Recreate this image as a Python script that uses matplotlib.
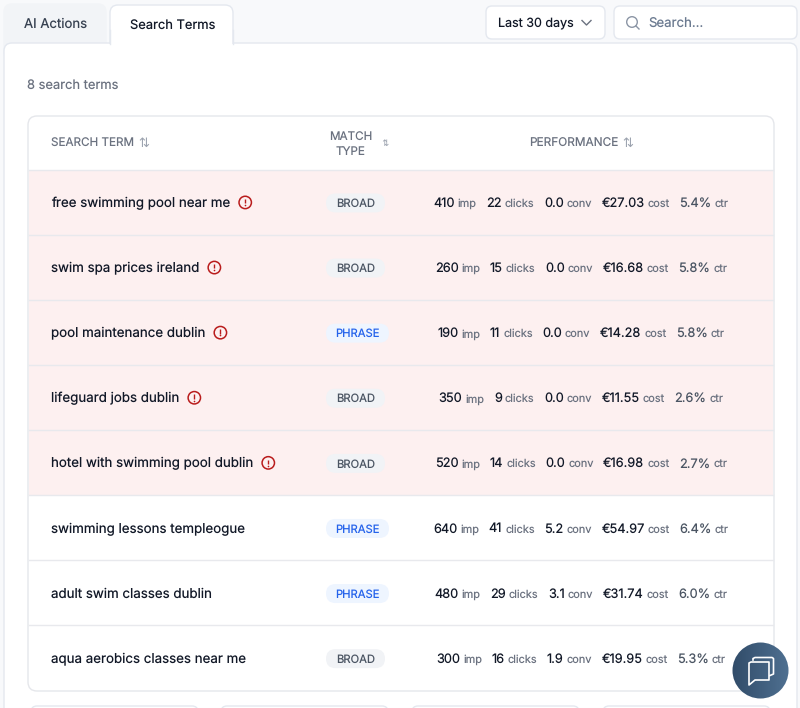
import numpy as np
import matplotlib
matplotlib.use('Agg')
import matplotlib.pyplot as plt
from matplotlib.patches import FancyBboxPatch, Rectangle, Circle, PathPatch
from matplotlib.path import Path

plt.rcParams['font.family'] = ['Inter', 'DejaVu Sans']
plt.rcParams['text.hinting'] = 'no_hinting'
plt.rcParams['text.hinting_factor'] = 1

# table values
terms = ['free swimming pool near me', 'swim spa prices ireland', 'pool maintenance dublin',
         'lifeguard jobs dublin', 'hotel with swimming pool dublin', 'swimming lessons templeogue',
         'adult swim classes dublin', 'aqua aerobics classes near me']
match_types = ['BROAD', 'BROAD', 'PHRASE', 'BROAD', 'BROAD', 'PHRASE', 'PHRASE', 'BROAD']
flagged = [True, True, True, True, True, False, False, False]
imp = ['410', '260', '190', '350', '520', '640', '480', '300']
clicks = ['22', '15', '11', '9', '14', '41', '29', '16']
conv = ['0.0', '0.0', '0.0', '0.0', '0.0', '5.2', '3.1', '1.9']
cost = ['€27.03', '€16.68', '€14.28', '€11.55', '€16.98', '€54.97', '€31.74', '€19.95']
ctr = ['5.4%', '5.8%', '5.8%', '2.6%', '2.7%', '6.4%', '6.0%', '5.3%']

BG = '#f8f9fb'
BORDER = '#e4e8ef'
DARK = '#111827'
GREY = '#6b7280'
HEAD = '#6b7280'

fig = plt.figure(figsize=(8, 7.08), dpi=100, facecolor=BG)
ax = fig.add_axes([0, 0, 1, 1])
ax.set_xlim(0, 800)
ax.set_ylim(708, 0)
ax.axis('off')


def box(x0, y0, x1, y1, r, fc, ec=BORDER, lw=1.0, z=1):
    p = FancyBboxPatch((x0 + r, y0 + r), x1 - x0 - 2 * r, y1 - y0 - 2 * r,
                       boxstyle='round,pad=%f,rounding_size=%f' % (r, r),
                       fc=fc, ec=ec, lw=lw, zorder=z)
    ax.add_patch(p)
    return p


def text_width(t):
    bb = t.get_window_extent(renderer=fig.canvas.get_renderer())
    return bb.width


# tabs and main panel
box(4, 4, 106, 60, 8, '#f2f4f7', ec='#f2f4f7', z=1)
box(4, 43, 797, 760, 8, 'white', z=2)
box(110, 5, 233, 60, 8, 'white', z=3)
ax.add_patch(Rectangle((109, 43.6), 125, 18, fc='white', ec='none', zorder=3.1))
ax.plot([110, 110], [30, 44], color=BORDER, lw=1.0, zorder=3.2)
ax.plot([233, 233], [30, 44], color=BORDER, lw=1.0, zorder=3.2)
ax.text(23.5, 24.5, 'AI Actions', fontsize=9.5, color='#374151', va='center', zorder=5)
ax.text(129.5, 25.5, 'Search Terms', fontsize=9.3, color=DARK, va='center', zorder=5)

# date dropdown
box(486, 6, 605, 39, 6, 'white', z=3)
ax.text(498, 23.5, 'Last 30 days', fontsize=9.0, color=DARK, va='center', zorder=5)
ax.plot([582, 586.5, 591], [20.5, 25, 20.5], color='#6b7280', lw=1.0, zorder=5)

# search box
box(614, 6, 797, 39, 6, 'white', z=3)
ax.add_patch(Circle((632, 22), 5.3, fc='none', ec='#8b95a5', lw=1.0, zorder=5))
ax.plot([636, 639], [26, 29], color='#8b95a5', lw=1.0, zorder=5)
ax.text(648, 23.5, 'Search...', fontsize=9.5, color='#6b7a90', va='center', zorder=5)

ax.text(27, 85, '8 search terms', fontsize=9.3, color=GREY, va='center', zorder=5)

# table frame
box(28, 116, 774, 691, 9, 'white', ec='#e5e7eb', lw=1.0, z=3)

ax.text(51, 144, 'SEARCH TERM', fontsize=8.4, color=HEAD, va='center', zorder=5)
ax.text(144, 143, '⇅', fontsize=9, color='#9ca3af', va='center', ha='center', zorder=5,
        family='DejaVu Sans')
ax.text(351, 136.5, 'MATCH', fontsize=8.4, color=HEAD, va='center', ha='center', zorder=5)
ax.text(351, 151.5, 'TYPE', fontsize=8.4, color=HEAD, va='center', ha='center', zorder=5)
ax.text(385, 143, '⇅', fontsize=6.5, color='#9ca3af', va='center', ha='center', zorder=5,
        family='DejaVu Sans')
ax.text(573.5, 144, 'PERFORMANCE', fontsize=8.5, color=HEAD, va='center', ha='center', zorder=5)
ax.text(628, 143, '⇅', fontsize=9, color='#9ca3af', va='center', ha='center', zorder=5,
        family='DejaVu Sans')

# rows
row_top = 169.6
row_h = 65.1
for i in range(len(terms)):
    y0 = row_top + i * row_h
    yc = y0 + row_h / 2 + 0.8
    if flagged[i]:
        ax.add_patch(Rectangle((29, y0), 744, row_h, fc='#fdf0f0', ec='none', zorder=3.5))
    ax.plot([29, 773], [y0, y0], color='#e8e9ed', lw=1.0, zorder=4)

    t = ax.text(51, yc + 0.5, terms[i], fontsize=9.6, color=DARK, va='center', zorder=5)
    if flagged[i]:
        cx = 51 + text_width(t) + 15
        ax.add_patch(Circle((cx, yc - 0.5), 6.2, fc='none', ec='#b91c1c', lw=1.1, zorder=5))
        ax.plot([cx, cx], [yc - 3.8, yc + 0.4], color='#b91c1c', lw=1.0, zorder=5,
                solid_capstyle='butt')
        ax.plot([cx], [yc + 2.3], marker='o', ms=1.2, mew=0, color='#b91c1c', zorder=5)

    if match_types[i] == 'BROAD':
        box(326, yc - 9.5, 385, yc + 9.5, 9.5, '#f1f3f6', ec='none', z=4.5)
        ax.text(355.5, yc + 1, 'BROAD', fontsize=8.1, color='#4b5563', va='center', ha='center', zorder=5)
    else:
        box(326, yc - 9.5, 389, yc + 9.5, 9.5, '#eef5ff', ec='none', z=4.5)
        ax.text(357.5, yc + 1, 'PHRASE', fontsize=8.1, color='#2563eb', va='center', ha='center', zorder=5)

    # performance pieces laid out left to right, group centred on the column
    pieces = [(imp[i], 'imp', DARK), (clicks[i], 'clicks', DARK), (conv[i], 'conv', DARK),
              (cost[i], 'cost', DARK), (ctr[i], 'ctr', '#4b5563')]
    items = []
    for val, lab, col in pieces:
        a = ax.text(0, yc + 0.5, val, fontsize=9.2, color=col, va='center', zorder=5)
        b = ax.text(0, yc + 1, lab, fontsize=7.9, color=GREY, va='center', zorder=5)
        items.append((a, b, text_width(a), text_width(b)))
    total = sum(w1 + 3 + w2 for _, _, w1, w2 in items) + 9.5 * 4
    x = 581 - total / 2
    for a, b, w1, w2 in items:
        a.set_x(x)
        x += w1 + 3
        b.set_x(x)
        x += w2 + 9.5

# cards peeking in at the bottom
for x0, x1 in [(31, 198), (221, 388), (412, 579), (603, 770)]:
    box(x0, 706, x1, 740, 6, 'white', z=3)

# chat button with gradient
grad = np.linspace(0, 1, 64).reshape(1, -1)
cmap = matplotlib.colors.LinearSegmentedColormap.from_list('chat', ['#314c69', '#4f7091'])
im = ax.imshow(grad, extent=(732, 789, 699, 642), cmap=cmap, aspect='auto', zorder=6)
im.set_clip_path(Circle((760.5, 670.5), 28, transform=ax.transData))
ax.set_xlim(0, 800)
ax.set_ylim(708, 0)

front = Path([(749, 666), (749, 663), (751, 662), (767, 662), (769, 662), (769, 664),
              (769, 678), (769, 680), (767, 680), (755, 680), (749, 685), (749, 666)])
ax.add_patch(PathPatch(front, fc='none', ec='white', lw=1.2, zorder=7, joinstyle='round'))
ax.plot([753, 753, 755, 772, 773.5, 773.5, 770],
        [660, 658.5, 657.5, 657.5, 658.5, 674, 675.5], color='white', lw=1.2, zorder=7)

fig.savefig('out.png', dpi=100, facecolor=BG)
